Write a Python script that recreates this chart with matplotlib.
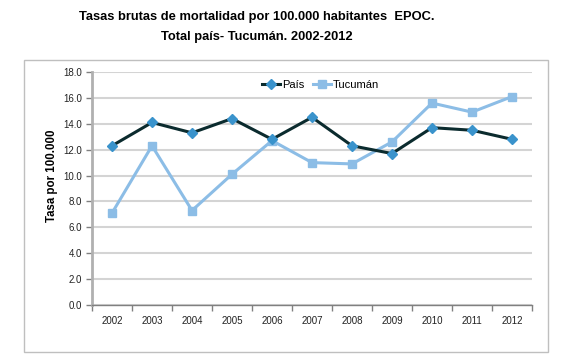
import numpy as np
import matplotlib.pyplot as plt
from matplotlib.patches import Rectangle

plt.rcParams['font.family'] = ['Liberation Sans', 'DejaVu Sans']

# ========== DATOS ==========
anios = ['2002', '2003', '2004', '2005', '2006', '2007',
         '2008', '2009', '2010', '2011', '2012']
pais = [12.3, 14.1, 13.3, 14.4, 12.8, 14.5, 12.3, 11.7, 13.7, 13.5, 12.8]
tucuman = [7.1, 12.3, 7.3, 10.1, 12.7, 11.0, 10.9, 12.6, 15.6, 14.9, 16.1]
yticks = [0, 2, 4, 6, 8, 10, 12, 14, 16, 18]

# ========== GRAFICO ==========
fig = plt.figure(figsize=(5.71, 3.62), dpi=100)
fig.patch.set_facecolor('white')

# marco exterior del grafico
fig.patches.append(Rectangle((24 / 571, 1 - 352 / 362), (548 - 24) / 571, (352 - 60) / 362,
                             transform=fig.transFigure, fill=False,
                             edgecolor='#bfbfbf', linewidth=1.0))

ax = fig.add_axes([92 / 571, 57 / 362, 440 / 571, 233 / 362])
x = np.arange(len(anios))

ax.plot(x, pais, color='#0b2b2e', linewidth=2.2, marker='D', markersize=5,
        markerfacecolor='#3a93cc', markeredgecolor='#3a93cc', label='País', zorder=4)
ax.plot(x, tucuman, color='#8cbde6', linewidth=2.2, marker='s', markersize=6,
        markerfacecolor='#8cbde6', markeredgecolor='#8cbde6', label='Tucumán', zorder=3)

ax.set_xlim(-0.5, len(anios) - 0.5)
ax.set_ylim(0, 18)
ax.set_yticks(yticks)
ax.set_yticklabels([f'{v:.1f}' for v in yticks], fontsize=7, color='#222222')
ax.set_xticks(x)
ax.set_xticklabels(anios, fontsize=7, color='#222222')
ax.tick_params(axis='x', which='major', length=0, pad=8)
ax.set_xticks(np.arange(-0.5, len(anios)), minor=True)
ax.tick_params(axis='x', which='minor', length=4, color='#808080', width=1)
ax.tick_params(axis='y', length=4, color='#808080', width=1, pad=3)

ax.grid(axis='y', color='#d4d4d4', linewidth=1.5, zorder=0)
ax.set_axisbelow(True)
for s in ['top', 'right']:
    ax.spines[s].set_visible(False)
ax.spines['left'].set_color('#b0b0b0')
ax.spines['left'].set_linewidth(2)
ax.spines['bottom'].set_color('#808080')
ax.spines['bottom'].set_linewidth(1)

fig.text(52 / 571, 1 - 176 / 362, 'Tasa por 100.000', rotation=90,
         ha='center', va='center', fontsize=8.3, fontweight='bold')

ax.legend(loc='upper center', bbox_to_anchor=(0.52, 1.01), ncol=2, frameon=False,
          fontsize=8, handlelength=1.6, columnspacing=0.8, handletextpad=0.2)

fig.text(257 / 571, 1 - 17 / 362, 'Tasas brutas de mortalidad por 100.000 habitantes  EPOC.',
         ha='center', va='center', fontsize=9.3, fontweight='bold')
fig.text(257 / 571, 1 - 37 / 362, 'Total país- Tucumán. 2002-2012',
         ha='center', va='center', fontsize=9.3, fontweight='bold')

fig.savefig('out.png', dpi=100, facecolor='white')
plt.close(fig)
